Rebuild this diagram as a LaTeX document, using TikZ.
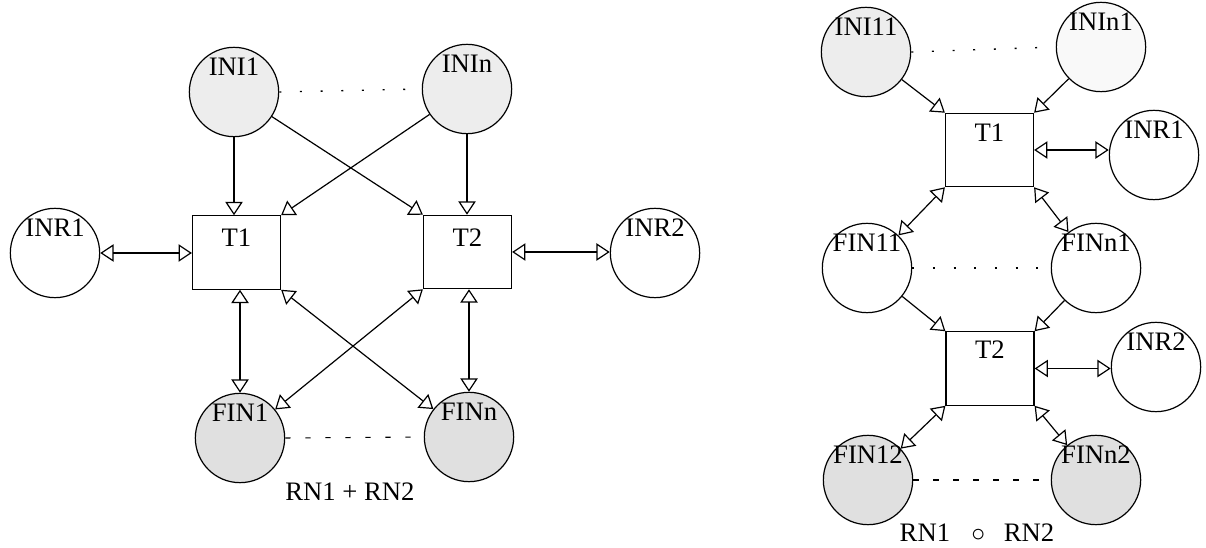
\documentclass[tikz,border=0pt]{standalone}
\usepackage{fontspec}
\setmainfont{Liberation Serif}
\usetikzlibrary{arrows.meta}
\begin{document}
\begin{tikzpicture}[x=0.75pt,y=-0.75pt,
  every node/.style={font=\fontsize{20}{22}\selectfont},
  place/.style={circle,draw,line width=0.9pt,minimum size=67pt,inner sep=0pt},
  lite/.style={place,fill=gray!14},
  dark/.style={place,fill=gray!24},
  plain/.style={place,fill=white},
  trans/.style={rectangle,draw,line width=0.9pt,minimum width=66pt,minimum height=55pt,inner sep=0pt},
  conn/.style={line width=0.9pt},
  uni/.style={conn,-{Triangle[open,length=10pt,width=13pt,line width=0.9pt]}},
  bi/.style={conn,{Triangle[open,length=10pt,width=13pt,line width=0.9pt]}-{Triangle[open,length=10pt,width=13pt,line width=0.9pt]}},
  dotline/.style={line width=1pt,dash pattern=on 1.5pt off 14pt},
  dashline/.style={line width=0.8pt,dash pattern=on 4pt off 11pt},
  lbl/.style={inner sep=0pt}
]
\useasboundingbox (0,0) rectangle (1206,548);

% ---------- left diagram ----------
\node[lite]  (INI1) at (234,92) {};
\node[lite]  (INIn) at (467,89) {};
\node[plain] (INR1) at (55,253) {};
\node[plain] (INR2) at (655,253) {};
\node[dark]  (FIN1) at (240,438) {};
\node[dark]  (FINn) at (469,437) {};
\node[trans] (T1) at (236.5,252.5) {};
\node[trans] (T2) at (467.5,252) {};

\node[lbl] (INI1l) at ([yshift=19pt]INI1.center) {INI1};
\node[lbl] (INInl) at ([yshift=19pt]INIn.center) {INIn};
\node[lbl] (INR1l) at ([yshift=19pt]INR1.center) {INR1};
\node[lbl] (INR2l) at ([yshift=19pt]INR2.center) {INR2};
\node[lbl] (FIN1l) at ([yshift=19pt]FIN1.center) {FIN1};
\node[lbl] (FINnl) at ([yshift=19pt]FINn.center) {FINn};
\node[lbl] (T1l) at ([yshift=-17pt]T1.north) {T1};
\node[lbl] (T2l) at ([yshift=-17pt]T2.north) {T2};
\node[lbl] (cap1) at (350,492) {RN1 + RN2};

\draw[dotline] (INI1.east) -- (INIn.west);
\draw[dashline] (FIN1.east) -- (FINn.west);

\draw[uni] (INI1.south) -- (INI1.south |- T1.north);
\draw[uni] (INIn.south) -- (INIn.south |- T2.north);
\draw[uni] (INI1) -- (T2.north west);
\draw[uni] (INIn) -- (T1.north east);
\draw[bi] (INR1.east) -- (INR1.east -| T1.west);
\draw[bi] (T2.east) -- (T2.east -| INR2.west);
\draw[bi] (FIN1.north |- T1.south) -- (FIN1.north);
\draw[bi] (FINn.north |- T2.south) -- (FINn.north);
\draw[bi] (T1.south east) -- (FINn);
\draw[bi] (T2.south west) -- (FIN1);

% ---------- right diagram ----------
\node[lite]  (INI11) at (866,52) {};
\node[place,fill=gray!5] (INIn1) at (1101,47) {};
\node[plain] (RINR1) at (1154,155) {};
\node[plain] (FIN11) at (867,268) {};
\node[plain] (FINn1) at (1096,268) {};
\node[plain] (RINR2) at (1156,367) {};
\node[dark]  (FIN12) at (868,480) {};
\node[dark]  (FINn2) at (1096,480) {};
\node[trans] (RT1) at (989.5,150) {};
\node[trans] (RT2) at (990,368.5) {};

\node[lbl] (INI11l) at ([yshift=19pt]INI11.center) {INI11};
\node[lbl] (INIn1l) at ([yshift=19pt]INIn1.center) {INIn1};
\node[lbl] (RINR1l) at ([yshift=19pt]RINR1.center) {INR1};
\node[lbl] (RINR2l) at ([yshift=19pt]RINR2.center) {INR2};
\node[lbl] (FIN11l) at ([yshift=19pt]FIN11.center) {FIN11};
\node[lbl] (FINn1l) at ([yshift=19pt]FINn1.center) {FINn1};
\node[lbl] (FIN12l) at ([yshift=19pt]FIN12.center) {FIN12};
\node[lbl] (FINn2l) at ([yshift=19pt]FINn2.center) {FINn2};
\node[lbl] (RT1l) at ([yshift=-15pt]RT1.north) {T1};
\node[lbl] (RT2l) at ([yshift=-14pt]RT2.north) {T2};
\node[lbl] (cap2) at (977,533) {RN1\hspace{0.8em}$\circ$\hspace{0.7em}RN2};

\draw[dotline] (INI11.east) -- (INIn1.west);
\draw[dotline] (FIN11.east) -- (FINn1.west);
\draw[dashline] (FIN12.east) -- (FINn2.west);

\draw[uni] (INI11) -- (RT1.north west);
\draw[uni] (INIn1) -- (RT1.north east);
\draw[bi] (RT1.east) -- (RT1.east -| RINR1.west);
\draw[bi] (RT1.south west) -- (FIN11);
\draw[bi] (RT1.south east) -- (FINn1);
\draw[uni] (FIN11) -- (RT2.north west);
\draw[uni] (FINn1) -- (RT2.north east);
\draw[bi] (RT2.east) -- (RT2.east -| RINR2.west);
\draw[bi] (RT2.south west) -- (FIN12);
\draw[bi] (RT2.south east) -- (FINn2);
\end{tikzpicture}
\end{document}
